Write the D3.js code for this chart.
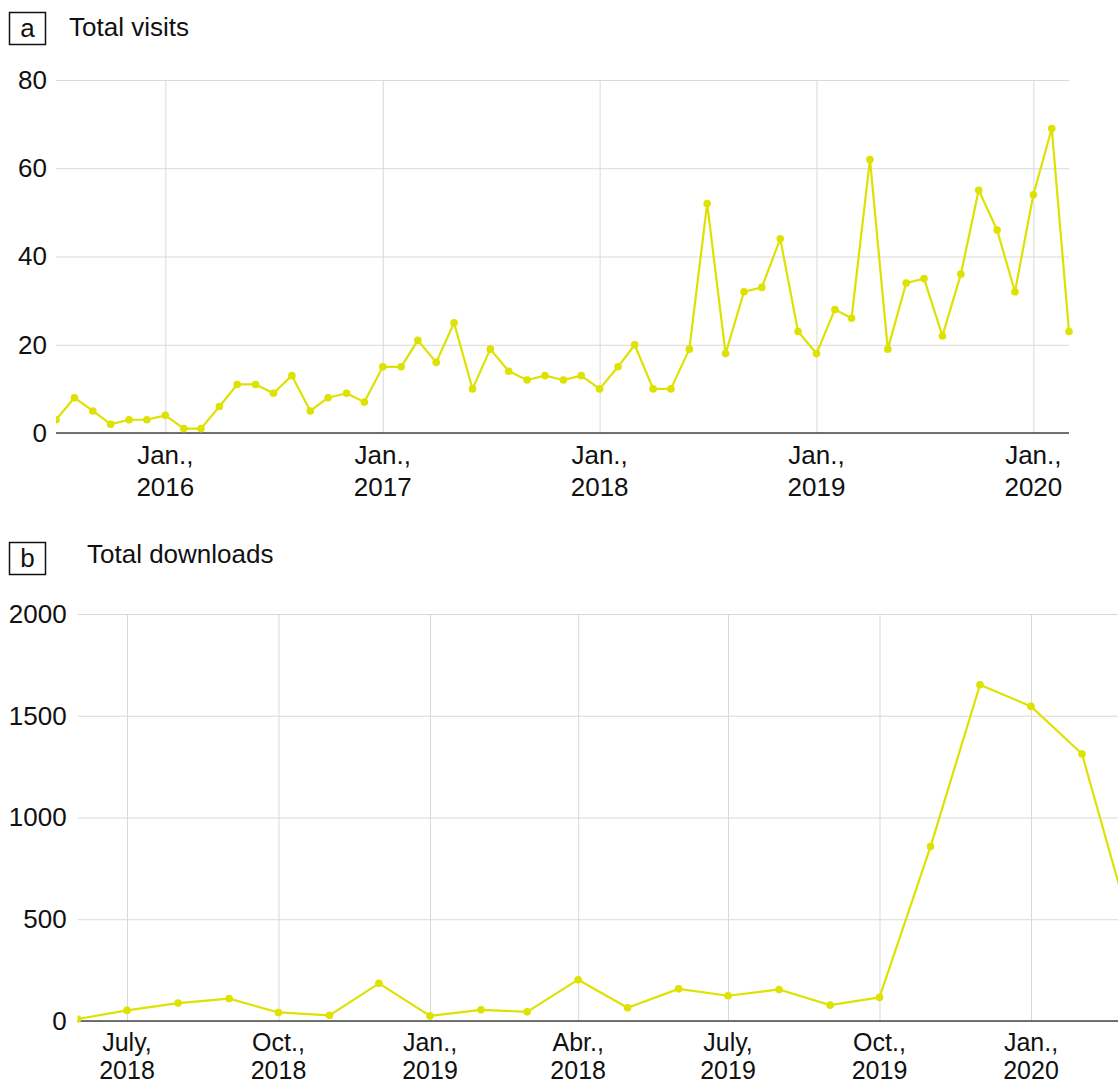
<!DOCTYPE html>
<html><head><meta charset="utf-8">
<script src="https://cdn.jsdelivr.net/npm/d3@7"></script>
<style>
body{margin:0;background:#fff}
svg{display:block}
text{font-family:"Liberation Sans",Arial,Helvetica,sans-serif;fill:#111}
</style>
</head><body>
<svg id="c" width="1118" height="1084"></svg>
<script>
// ---- Panel a: Total visits (monthly) ----
const visitMonths = [
 "2015-07","2015-08","2015-09","2015-10","2015-11","2015-12",
 "2016-01","2016-02","2016-03","2016-04","2016-05","2016-06","2016-07","2016-08","2016-09","2016-10","2016-11","2016-12",
 "2017-01","2017-02","2017-03","2017-04","2017-05","2017-06","2017-07","2017-08","2017-09","2017-10","2017-11","2017-12",
 "2018-01","2018-02","2018-03","2018-04","2018-05","2018-06","2018-07","2018-08","2018-09","2018-10","2018-11","2018-12",
 "2019-01","2019-02","2019-03","2019-04","2019-05","2019-06","2019-07","2019-08","2019-09","2019-10","2019-11","2019-12",
 "2020-01","2020-02","2020-03"];
const visits = [
 3,8,5,2,3,3,
 4,1,1,6,11,11,9,13,5,8,9,7,
 15,15,21,16,25,10,19,14,12,13,12,13,
 10,15,20,10,10,19,52,18,32,33,44,23,
 18,28,26,62,19,34,35,22,36,55,46,32,
 54,69,23];
const visitXTicks = ["2016-01","2017-01","2018-01","2019-01","2020-01"];
const visitXTickMonth = ["Jan.,","Jan.,","Jan.,","Jan.,","Jan.,"];
const visitXTickYear = ["2016","2017","2018","2019","2020"];
const visitYTicks = [0,20,40,60,80];

// ---- Panel b: Total downloads (monthly) ----
const downloadMonths = [
 "2018-06","2018-07","2018-08","2018-09","2018-10","2018-11","2018-12",
 "2019-01","2019-02","2019-03","2019-04","2019-05","2019-06","2019-07","2019-08","2019-09","2019-10","2019-11","2019-12",
 "2020-01","2020-02","2020-03"];
const downloads = [
 10,52,88,110,42,28,185,
 25,55,45,203,65,158,124,155,78,116,857,1652,
 1546,1312,480];
const downloadXTicks = ["2018-07","2018-10","2019-01","2019-04","2019-07","2019-10","2020-01"];
const downloadXTickMonth = ["July,","Oct.,","Jan.,","Abr.,","July,","Oct.,","Jan.,"];
const downloadXTickYear = ["2018","2018","2019","2018","2019","2019","2020"];
const downloadYTicks = [0,500,1000,1500,2000];

const COLOR = "#dde200";
const GRID = "#d9d9d9";
const FS = 26;
const parse = d3.timeParse("%Y-%m");
const svg = d3.select("#c");

function header(letter, title, bx, by, tx, ty){
  const g = svg.append("g");
  g.append("rect").attr("x",bx).attr("y",by).attr("width",36).attr("height",32)
    .attr("fill","none").attr("stroke","#111").attr("stroke-width",1.5);
  g.append("text").attr("x",bx+18).attr("y",by+24).attr("text-anchor","middle")
    .attr("font-size",FS).text(letter);
  g.append("text").attr("x",tx).attr("y",ty).attr("font-size",FS).text(title);
}

function panel(o){
  const g = svg.append("g");
  const x = d3.scaleTime().domain(o.xDomain.map(parse)).range(o.xRange);
  const y = d3.scaleLinear().domain([0, o.yMax]).range([o.yBottom, o.yTop]);
  const gridRight = Math.min(o.xRange[1], 1118);
  const clipId = "clip" + o.id;
  svg.append("defs").append("clipPath").attr("id", clipId)
    .append("rect").attr("x", o.xRange[0]).attr("y", o.yTop - 10)
    .attr("width", 1118 - o.xRange[0]).attr("height", o.yBottom - o.yTop + 20);

  // horizontal grid + y labels
  const ya = d3.axisLeft(y).tickValues(o.yTicks).tickSize(-(gridRight - o.xRange[0]))
    .tickPadding(o.yPad).tickFormat(d3.format("d"));
  const yg = g.append("g").attr("transform",`translate(${o.xRange[0]},0)`).call(ya);
  yg.select(".domain").remove();
  yg.selectAll(".tick line").attr("stroke",GRID).attr("stroke-width",1);
  yg.selectAll(".tick text").attr("font-size",FS).attr("fill","#111")
    .attr("font-family",'"Liberation Sans",Arial,sans-serif');

  // vertical grid
  const xa = d3.axisBottom(x).tickValues(o.xTicks.map(parse)).tickSize(-(o.yBottom - o.yTop)).tickFormat("");
  const xg = g.append("g").attr("transform",`translate(0,${o.yBottom})`).call(xa);
  xg.select(".domain").remove();
  xg.selectAll(".tick line").attr("stroke",GRID).attr("stroke-width",1);

  // x labels (two lines)
  const lab = g.append("g").selectAll("g").data(o.xTicks).join("g")
    .attr("transform", d => `translate(${x(parse(d))},0)`);
  lab.append("text").attr("text-anchor","middle").attr("font-size",o.xFS)
    .attr("y",o.yBottom+o.monthOff).text((d,i)=>o.xTickMonth[i]);
  lab.append("text").attr("text-anchor","middle").attr("font-size",o.xFS)
    .attr("y",o.yBottom+o.yearOff).text((d,i)=>o.xTickYear[i]);

  // baseline
  g.append("line").attr("x1",o.xRange[0]).attr("x2",gridRight)
    .attr("y1",y(0)).attr("y2",y(0)).attr("stroke","#444").attr("stroke-width",1.5);

  // series
  const pts = o.months.map((m,i)=>({d:parse(m), v:o.values[i]}));
  const mg = g.append("g").attr("clip-path",`url(#${clipId})`);
  mg.append("path").datum(pts)
    .attr("fill","none").attr("stroke",COLOR).attr("stroke-width",2.2).attr("stroke-linejoin","round")
    .attr("d", d3.line().x(p=>x(p.d)).y(p=>y(p.v)));
  mg.selectAll("circle").data(pts).join("circle")
    .attr("cx",p=>x(p.d)).attr("cy",p=>y(p.v)).attr("r",3.8).attr("fill",COLOR);
}

header("a","Total visits",9.5,12.5,69,36);
panel({id:"a", months:visitMonths, values:visits,
  xDomain:["2015-07","2020-03"], xRange:[56,1069],
  yMax:80, yTop:80, yBottom:433, yTicks:visitYTicks, yPad:9, xFS:26, monthOff:31, yearOff:63,
  xTicks:visitXTicks, xTickMonth:visitXTickMonth, xTickYear:visitXTickYear});

header("b","Total downloads",9.5,542.5,87,563);
panel({id:"b", months:downloadMonths, values:downloads,
  xDomain:["2018-06","2020-03"], xRange:[77.6,1129.8],
  yMax:2000, yTop:614, yBottom:1021, yTicks:downloadYTicks, yPad:11, xFS:25, monthOff:29.5, yearOff:57.5,
  xTicks:downloadXTicks, xTickMonth:downloadXTickMonth, xTickYear:downloadXTickYear});
</script>
</body></html>
